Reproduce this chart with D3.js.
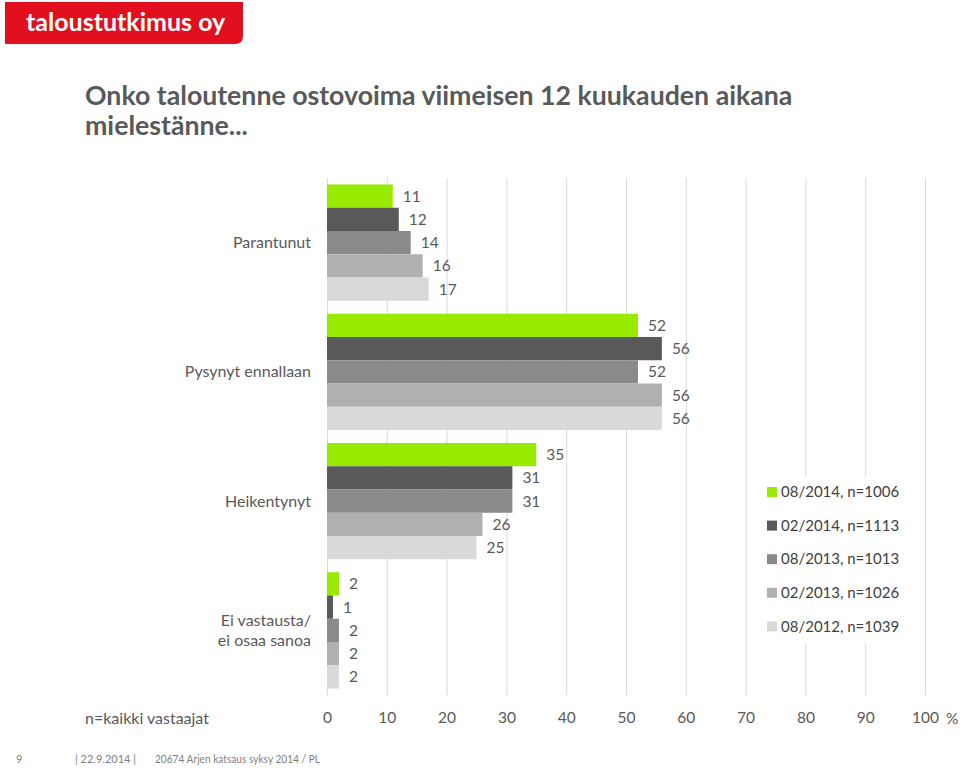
<!DOCTYPE html>
<html><head><meta charset="utf-8">
<script src="https://cdn.jsdelivr.net/npm/d3@7"></script>
<style>body{margin:0;background:#fff;} svg{display:block;}</style>
</head><body>
<svg id="c" width="960" height="768"></svg>
<script>
const categories = ["Parantunut", "Pysynyt ennallaan", "Heikentynyt", "Ei vastausta/\nei osaa sanoa"];
const seriesNames = ["08/2014, n=1006", "02/2014, n=1113", "08/2013, n=1013", "02/2013, n=1026", "08/2012, n=1039"];
const s0814 = [11, 52, 35, 2];
const s0214 = [12, 56, 31, 1];
const s0813 = [14, 52, 31, 2];
const s0213 = [16, 56, 26, 2];
const s0812 = [17, 56, 25, 2];
const seriesValues = [s0814, s0214, s0813, s0213, s0812];
const colors = ["#98ea00", "#595959", "#8a8a8a", "#b0b0b0", "#d9d9d9"];
const xTicks = [0,10,20,30,40,50,60,70,80,90,100];

const svg = d3.select("#c");
const font = "Lato, 'Open Sans', sans-serif";
const txt = "#595959";

// logo
svg.append("path").attr("d","M5,2 H243 V36 Q243,44 235,44 H5 Z").attr("fill","#e2101e");
svg.append("text").attr("x",26).attr("y",31).attr("fill","#fff").attr("font-family",font)
  .attr("font-weight","bold").attr("font-size",25).text("taloustutkimus oy");

// title
const title = svg.append("text").attr("font-family",font).attr("font-weight","bold")
  .attr("font-size",26.7).attr("fill",txt);
title.append("tspan").attr("x",85).attr("y",105).text("Onko taloutenne ostovoima viimeisen 12 kuukauden aikana");
title.append("tspan").attr("x",85).attr("y",135).text("mielestänne...");

const x = d3.scaleLinear().domain([0,100]).range([327,925]);
const y = d3.scaleBand().domain(categories).range([178,695]).paddingInner(0.1).paddingOuter(0.05);
const yi = d3.scaleBand().domain(d3.range(seriesNames.length)).range([0,y.bandwidth()]);

// grid
svg.append("g").selectAll("line").data(xTicks).join("line")
  .attr("x1",d=>x(d)+0.5).attr("x2",d=>x(d)+0.5).attr("y1",178).attr("y2",695)
  .attr("stroke","#d9d9d9").attr("stroke-width",1);

// axis
const ax = svg.append("g").attr("transform","translate(0,695)")
  .call(d3.axisBottom(x).tickValues(xTicks).tickSize(0).tickPadding(17));
ax.select(".domain").remove();
ax.selectAll("text").attr("font-family",font).attr("font-size",15.5).attr("fill",txt);
svg.append("text").attr("x",946).attr("y",724).attr("font-family",font).attr("font-size",15.5).attr("fill",txt).text("%");
svg.append("text").attr("x",85).attr("y",724).attr("font-family",font).attr("font-size",16).attr("fill",txt).text("n=kaikki vastaajat");

// bars
const rows = [];
categories.forEach((c,ci)=>seriesValues.forEach((s,si)=>rows.push({c,si,v:s[ci]})));
svg.append("g").selectAll("rect").data(rows).join("rect")
  .attr("x",x(0)).attr("y",d=>y(d.c)+yi(d.si)).attr("width",d=>x(d.v)-x(0)).attr("height",yi.bandwidth())
  .attr("fill",d=>colors[d.si]);
svg.append("g").selectAll("text").data(rows).join("text")
  .attr("x",d=>x(d.v)+10).attr("y",d=>y(d.c)+yi(d.si)+yi.bandwidth()/2).attr("dy","0.35em")
  .attr("font-family",font).attr("font-size",15.5).attr("fill",txt).text(d=>d.v);

// category labels
const cl = svg.append("g").selectAll("text").data(categories).join("text")
  .attr("text-anchor","end").attr("font-family",font).attr("font-size",16).attr("fill",txt);
cl.each(function(d){
  const lines = d.split("\n");
  const cy = y(d)+y.bandwidth()/2;
  lines.forEach((l,i)=>d3.select(this).append("tspan").attr("x",311)
    .attr("y",cy+(i-(lines.length-1)/2)*20).attr("dy","0.35em").text(l));
});

// legend
const lg = svg.append("g");
lg.append("rect").attr("x",760).attr("y",476).attr("width",150).attr("height",168).attr("fill","#fff");
const li = lg.selectAll("g").data(seriesNames).join("g")
  .attr("transform",(d,i)=>`translate(767,${492+i*33.6})`);
li.append("rect").attr("x",0).attr("y",-5).attr("width",10).attr("height",10).attr("fill",(d,i)=>colors[i]);
li.append("text").attr("x",14).attr("y",0).attr("dy","0.35em").attr("font-family",font)
  .attr("font-size",15).attr("fill","#404040").text(d=>d);

// footer
const ft = svg.append("g").attr("font-family",font).attr("font-size",11).attr("fill","#7f7f7f");
ft.append("text").attr("x",16).attr("y",763).text("9");
ft.append("text").attr("x",75).attr("y",763).text("| 22.9.2014 |");
ft.append("text").attr("x",155).attr("y",763).attr("textLength",165).attr("lengthAdjust","spacingAndGlyphs").text("20674 Arjen katsaus syksy 2014 / PL");
</script>
</body></html>
